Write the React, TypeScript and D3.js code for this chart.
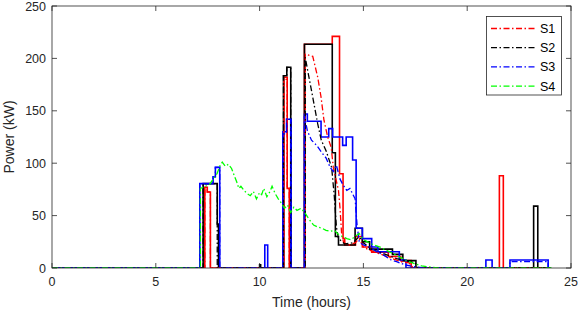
import React from 'react';
import * as d3 from 'd3';

const width = 581;
const height = 317;
const margin = {top: 6, right: 10, bottom: 49, left: 52};
const axisColor = '#262626';
const font = '"Liberation Sans", Arial, Helvetica, sans-serif';

type Pt = [number, number];

const xTicks = [0, 5, 10, 15, 20, 25];
const yTicks = [0, 50, 100, 150, 200, 250];
const legendNames = ['S1', 'S2', 'S3', 'S4'];

// solid step profiles: value holds from t until the next t
const redSteps: Pt[] = [
  [0, 0], [7.36, 77], [7.48, 72.5], [7.63, 0], [11.17, 182], [11.33, 76], [11.43, 0],
  [12.16, 213.5], [13.5, 221], [13.85, 90], [14.02, 28], [14.1, 22], [14.62, 30], [14.95, 20],
  [15.4, 15], [16.2, 11], [16.8, 7], [17.3, 0], [21.55, 88], [21.74, 0], [24, 0],
];
const blackSteps: Pt[] = [
  [0, 0], [7.28, 80.5], [7.96, 42], [8.02, 0], [10.0, 3], [10.05, 0], [11.15, 183.5], [11.31, 191.5],
  [11.5, 0], [12.16, 213.5], [13.5, 110], [13.65, 30], [13.8, 22], [14.6, 38], [14.95, 25],
  [15.3, 18], [16.4, 13], [16.9, 7], [17.53, 0], [23.2, 59], [23.4, 0], [24, 0],
];
const blueSteps: Pt[] = [
  [0, 0], [7.12, 80.5], [7.76, 87], [7.87, 96], [8.08, 0], [10.25, 22], [10.39, 0], [11.12, 130],
  [11.3, 142], [11.52, 0], [12.16, 147], [12.3, 140], [12.96, 125], [13.33, 133], [13.52, 125],
  [14.0, 117], [14.17, 125], [14.48, 103], [14.65, 38], [14.95, 28], [15.4, 20], [15.7, 15.5],
  [16.73, 7.6], [17.05, 0], [20.9, 7.6], [21.2, 0], [22.06, 7.6], [23.9, 0], [24, 0],
];

// dash-dot series
const s1: Pt[] = [
  [0, 0], [7.36, 0], [7.36, 77], [7.48, 77], [7.48, 72.5], [7.63, 72.5], [7.63, 0], [11.17, 0],
  [11.17, 180], [11.33, 180], [11.33, 76], [11.43, 76], [11.43, 0], [12.2, 0], [12.2, 204],
  [12.56, 202], [12.8, 182], [12.96, 163], [13.1, 141], [13.28, 125], [13.45, 115], [13.55, 96],
  [13.8, 74], [13.87, 58], [13.95, 33], [14.05, 24], [14.3, 22], [14.6, 24], [14.8, 28], [15.0, 20],
  [15.3, 17], [15.7, 14], [16.0, 12], [16.4, 9], [16.8, 6], [17.2, 5], [17.4, 0], [24, 0],
];
const s2: Pt[] = [
  [0, 0], [7.28, 0], [7.28, 80.5], [7.96, 80.5], [7.96, 0], [11.15, 0], [11.15, 183.5],
  [11.31, 183.5], [11.31, 191.5], [11.5, 191.5], [11.5, 0], [12.2, 0], [12.2, 201], [12.32, 188],
  [12.56, 163], [12.8, 137.5], [12.97, 122], [13.2, 112], [13.47, 96], [13.6, 68], [13.7, 39],
  [13.8, 28], [14.1, 23], [14.5, 24], [14.8, 30], [15.0, 24], [15.4, 18], [15.8, 15], [16.2, 12],
  [16.6, 9], [17.0, 7], [17.5, 5], [17.6, 0], [24, 0],
];
const s3: Pt[] = [
  [0, 0], [7.12, 0], [7.12, 80.5], [7.76, 80.5], [7.76, 87], [7.87, 87], [7.87, 96], [8.08, 96],
  [8.08, 0], [11.12, 0], [11.12, 128], [11.3, 128], [11.3, 142], [11.5, 142], [11.5, 0], [12.16, 0],
  [12.16, 145], [12.3, 131], [12.5, 122], [12.75, 117], [13.0, 110], [13.2, 105], [13.4, 96],
  [13.55, 92], [13.7, 98], [13.87, 85], [14.0, 80], [14.2, 74], [14.35, 76], [14.45, 72], [14.6, 66],
  [14.7, 40], [14.8, 25], [15.0, 22], [15.3, 20], [15.6, 16], [16.0, 12], [16.3, 8], [16.6, 6],
  [17.0, 3], [17.5, 1], [18, 0], [22.06, 0], [22.06, 6], [23.9, 6], [23.9, 0], [24, 0],
];
const s4: Pt[] = [
  [0, 0], [7.15, 0], [7.15, 76], [7.4, 78], [7.6, 80], [7.8, 86], [7.95, 90], [8.1, 98], [8.2, 101],
  [8.35, 97], [8.5, 99], [8.65, 95], [8.8, 87], [8.9, 82], [9.0, 76], [9.1, 78], [9.25, 74],
  [9.4, 71], [9.55, 69], [9.7, 73], [9.85, 66], [10.0, 72], [10.1, 70], [10.2, 76], [10.35, 68],
  [10.5, 73], [10.6, 78], [10.75, 71], [10.9, 66], [11.05, 62], [11.2, 57], [11.35, 60], [11.5, 53],
  [11.65, 58], [11.8, 55], [12.0, 57], [12.2, 52], [12.4, 46], [12.6, 41], [12.8, 39], [13.0, 38],
  [13.2, 36], [13.4, 35], [13.6, 36], [13.8, 32], [14.0, 30], [14.2, 28], [14.4, 27], [14.6, 30],
  [14.8, 33], [15.0, 27], [15.2, 25], [15.5, 22], [15.8, 20], [16.0, 18], [16.3, 15], [16.6, 12],
  [16.9, 9], [17.2, 6], [17.5, 4], [17.8, 2], [18.2, 1], [18.6, 0], [24.07, 0],
];

const red = '#ff0000';
const black = '#000000';
const blue = '#0000ff';
const green = '#00ff00';
const dashDot = '6 2.5 1.5 2.5';

const App: React.FC = () => {
  const x = d3.scaleLinear().domain([0, 25]).range([margin.left, width - margin.right]);
  const y = d3.scaleLinear().domain([0, 250]).range([height - margin.bottom, margin.top]);

  const step = d3.line<Pt>().x(d => x(d[0])).y(d => y(d[1])).curve(d3.curveStepAfter);
  const line = d3.line<Pt>().x(d => x(d[0])).y(d => y(d[1]));

  const x0 = x(0), x1 = x(25), y0 = y(0), y1 = y(250);
  const dashSeries: [Pt[], string][] = [[s1, red], [s2, black], [s3, blue], [s4, green]];

  return (
    <svg width={width} height={height} style={{position: 'absolute', left: 0, top: 0}}>
      <rect x={0} y={0} width={width} height={height} fill='#fff' />
      <defs>
        <clipPath id='plot'>
          <rect x={x0} y={y1} width={x1 - x0} height={y0 - y1} />
        </clipPath>
      </defs>
      <g clipPath='url(#plot)' fill='none' strokeLinejoin='miter'>
        <path d={step(redSteps) || ''} stroke={red} strokeWidth={1.6} />
        <path d={step(blackSteps) || ''} stroke={black} strokeWidth={1.6} />
        <path d={step(blueSteps) || ''} stroke={blue} strokeWidth={1.6} />
        {dashSeries.map(([d, c], i) => (
          <path key={i} d={line(d) || ''} stroke={c} strokeWidth={1.3} strokeDasharray={dashDot} />
        ))}
      </g>
      <g stroke={axisColor} strokeWidth={0.8} fill='none'>
        <rect x={x0} y={y1} width={x1 - x0} height={y0 - y1} />
        {xTicks.map(t => (
          <g key={t}>
            <line x1={x(t)} x2={x(t)} y1={y0} y2={y0 - 5} />
            <line x1={x(t)} x2={x(t)} y1={y1} y2={y1 + 5} />
          </g>
        ))}
        {yTicks.map(t => (
          <g key={t}>
            <line x1={x0} x2={x0 + 5} y1={y(t)} y2={y(t)} />
            <line x1={x1} x2={x1 - 5} y1={y(t)} y2={y(t)} />
          </g>
        ))}
      </g>
      <g fontFamily={font} fontSize={12.5} fill={axisColor}>
        {xTicks.map(t => (
          <text key={t} x={x(t)} y={y0 + 18} textAnchor='middle'>{t}</text>
        ))}
        {yTicks.map(t => (
          <text key={t} x={x0 - 6} y={y(t) + 4.5} textAnchor='end'>{t}</text>
        ))}
        <text x={(x0 + x1) / 2} y={y0 + 39} textAnchor='middle' fontSize={14}>Time (hours)</text>
        <text transform={`translate(14, ${(y0 + y1) / 2}) rotate(-90)`} textAnchor='middle' fontSize={14}>
          Power (kW)
        </text>
      </g>
      <g>
        <rect x={486.5} y={16.5} width={75} height={78.5} fill='#fff' stroke={axisColor} strokeWidth={0.8} />
        {legendNames.map((n, i) => (
          <g key={n} transform={`translate(0, ${28.5 + i * 19.2})`}>
            <line x1={491} x2={537} y1={0} y2={0} stroke={dashSeries[i][1]} strokeWidth={1.3}
              strokeDasharray={dashDot} />
            <text x={540} y={4.5} fontFamily={font} fontSize={12.5} fill='#000'>{n}</text>
          </g>
        ))}
      </g>
    </svg>
  );
};

export default App;
